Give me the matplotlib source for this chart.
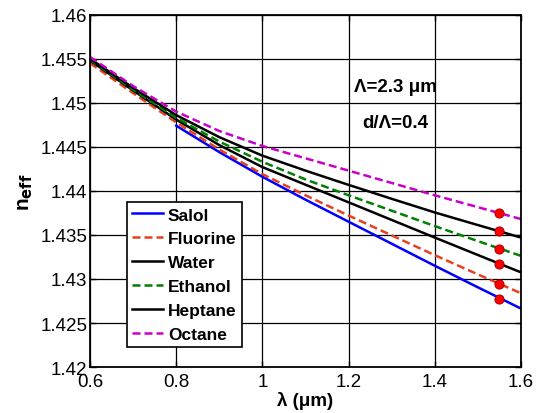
#!/usr/bin/env python3
"""Effective index vs wavelength for several analytes."""

import matplotlib
matplotlib.use("Agg")
import matplotlib.pyplot as plt

plt.rcParams["font.family"] = ["Liberation Sans", "DejaVu Sans"]

# ---------------------------------------------------------------------------
# Data
# ---------------------------------------------------------------------------

WL = [0.6, 0.7, 0.8, 0.9, 1.0, 1.1, 1.2, 1.3, 1.4, 1.5, 1.6]
WL_SALOL = WL[2:]

SALOL    = [1.4474, 1.4444, 1.4416, 1.4390, 1.4365, 1.4340, 1.4315, 1.42905, 1.42664]
FLUORINE = [1.4545, 1.4511, 1.44777, 1.4447, 1.4419, 1.4395, 1.4372, 1.43495, 1.4327, 1.43052, 1.42838]
WATER    = [1.4548, 1.4514, 1.4481, 1.4452, 1.4427, 1.4407, 1.4387, 1.4367, 1.4347, 1.43272, 1.43075]
ETHANOL  = [1.4549, 1.4515, 1.4483, 1.4456, 1.4433, 1.4413, 1.4395, 1.43775, 1.4360, 1.4343, 1.43262]
HEPTANE  = [1.4550, 1.4517, 1.4486, 1.4461, 1.4440, 1.4423, 1.44068, 1.4391, 1.43755, 1.43612, 1.4347]
OCTANE   = [1.4552, 1.4519, 1.4490, 1.4468, 1.4451, 1.4437, 1.4423, 1.4409, 1.4395, 1.43815, 1.4368]

DOT_WL = [1.55] * 6
DOT_NEFF = [1.42775, 1.42948, 1.43165, 1.43342, 1.43540, 1.43746]

XTICKS = [0.6, 0.8, 1.0, 1.2, 1.4, 1.6]
XTICKLABELS = ["0.6", "0.8", "1", "1.2", "1.4", "1.6"]
YTICKS = [1.42, 1.425, 1.43, 1.435, 1.44, 1.445, 1.45, 1.455, 1.46]
YTICKLABELS = ["1.42", "1.425", "1.43", "1.435", "1.44", "1.445", "1.45", "1.455", "1.46"]

# (label, x, y, color, linestyle)
SERIES = [
    ("Salol",    WL_SALOL, SALOL,    "#0000ff", "-"),
    ("Fluorine", WL,       FLUORINE, "#e8401c", "--"),
    ("Water",    WL,       WATER,    "#000000", "-"),
    ("Ethanol",  WL,       ETHANOL,  "#008000", "--"),
    ("Heptane",  WL,       HEPTANE,  "#000000", "-"),
    ("Octane",   WL,       OCTANE,   "#c800c8", "--"),
]


def main():
    fig = plt.figure(figsize=(5.36, 4.14), dpi=100)
    ax = fig.add_axes([0.168, 0.111, 0.804, 0.851])

    for label, xs, ys, color, ls in SERIES:
        line, = ax.plot(xs, ys, color=color, linestyle=ls, linewidth=1.8, label=label)
        if ls == "--":
            line.set_dashes((3.2, 1.6))

    ax.plot(DOT_WL, DOT_NEFF, linestyle="none", marker="o", markersize=6.5,
            markerfacecolor="#ff0000", markeredgecolor="#b00000", markeredgewidth=0.8)

    ax.text(1.308, 1.4518, "\u039b=2.3 \u03bcm", ha="center", va="center",
            fontsize=13.5, fontweight="bold")
    ax.text(1.308, 1.4478, "d/\u039b=0.4", ha="center", va="center",
            fontsize=13.5, fontweight="bold")

    ax.set_xlim(0.6, 1.6)
    ax.set_ylim(1.42, 1.46)
    ax.set_xticks(XTICKS)
    ax.set_xticklabels(XTICKLABELS)
    ax.set_yticks(YTICKS)
    ax.set_yticklabels(YTICKLABELS)
    ax.tick_params(axis="both", direction="in", top=True, right=True,
                   labelsize=13.5, length=4, width=1, pad=2)
    ax.tick_params(axis="x", pad=4)
    ax.grid(True, color="#000000", linewidth=0.9, linestyle="-")
    ax.set_axisbelow(True)
    for sp in ax.spines.values():
        sp.set_linewidth(1.3)

    ax.set_xlabel("\u03bb (\u03bcm)", fontsize=13.5, fontweight="bold", labelpad=1)
    ax.set_ylabel("n$_{\\mathbf{eff}}$", fontsize=15, fontweight="bold", labelpad=4)

    leg = ax.legend(loc="upper left", bbox_to_anchor=(0.086, 0.468),
                    frameon=True, fancybox=False, framealpha=1,
                    edgecolor="#000000", borderaxespad=0, handlelength=1.75,
                    handletextpad=0.3, labelspacing=0.5, borderpad=0.3,
                    prop={"weight": "bold", "size": 12.5})
    leg.get_frame().set_linewidth(1.2)

    fig.savefig("out.png", dpi=100)


if __name__ == "__main__":
    main()
